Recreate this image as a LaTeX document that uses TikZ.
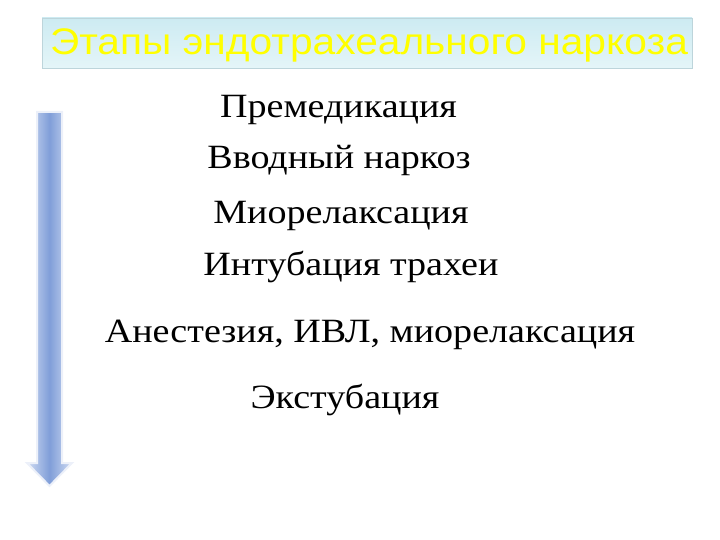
\documentclass[tikz,border=0pt]{standalone}
\usepackage{fontspec}
\setmainfont[FakeStretch=1.12]{Liberation Serif}
\newfontfamily\titlefont[FakeStretch=1.1]{Liberation Sans}
\usetikzlibrary{shadings}

\definecolor{arrowblue}{RGB}{128,158,216}
\definecolor{arrowpale}{RGB}{208,220,243}
\definecolor{bartop}{RGB}{205,235,242}
\definecolor{barbottom}{RGB}{228,245,248}
\definecolor{titleyellow}{RGB}{255,255,0}

\tikzset{
	stage/.style={font=\fontsize{34}{40}\selectfont, inner sep=0pt, anchor=base},
	titlebar/.style={draw=bartop!80!gray, line width=0.8pt, top color=bartop, bottom color=barbottom},
}

\begin{document}
\begin{tikzpicture}[x=1pt,y=-1pt]
	\useasboundingbox (0,0) rectangle (720,540);

	% title bar
	\draw[titlebar] (42,18) rectangle (692,68);
	\node[inner sep=0pt, anchor=base, text=titleyellow, font=\titlefont\fontsize{37}{42}\selectfont] (title) at (369,55) {Этапы эндотрахеального наркоза};

	% downward arrow
	\draw[white!85!arrowblue, line width=2pt, left color=arrowpale, right color=arrowpale, middle color=arrowblue]
		(37,112) -- (62,112) -- (62,463) -- (72,463) -- (49.5,486) -- (27,463) -- (37,463) -- cycle;

	% stages
	\node[stage] (premed) at (338.5,118) {Премедикация};
	\node[stage] (induct) at (339,169) {Вводный наркоз};
	\node[stage] (relax) at (341,224) {Миорелаксация};
	\node[stage] (intub) at (351,275) {Интубация трахеи};
	\node[stage] (maint) at (370,342) {Анестезия, ИВЛ, миорелаксация};
	\node[stage] (extub) at (345,408) {Экстубация};
\end{tikzpicture}
\end{document}
